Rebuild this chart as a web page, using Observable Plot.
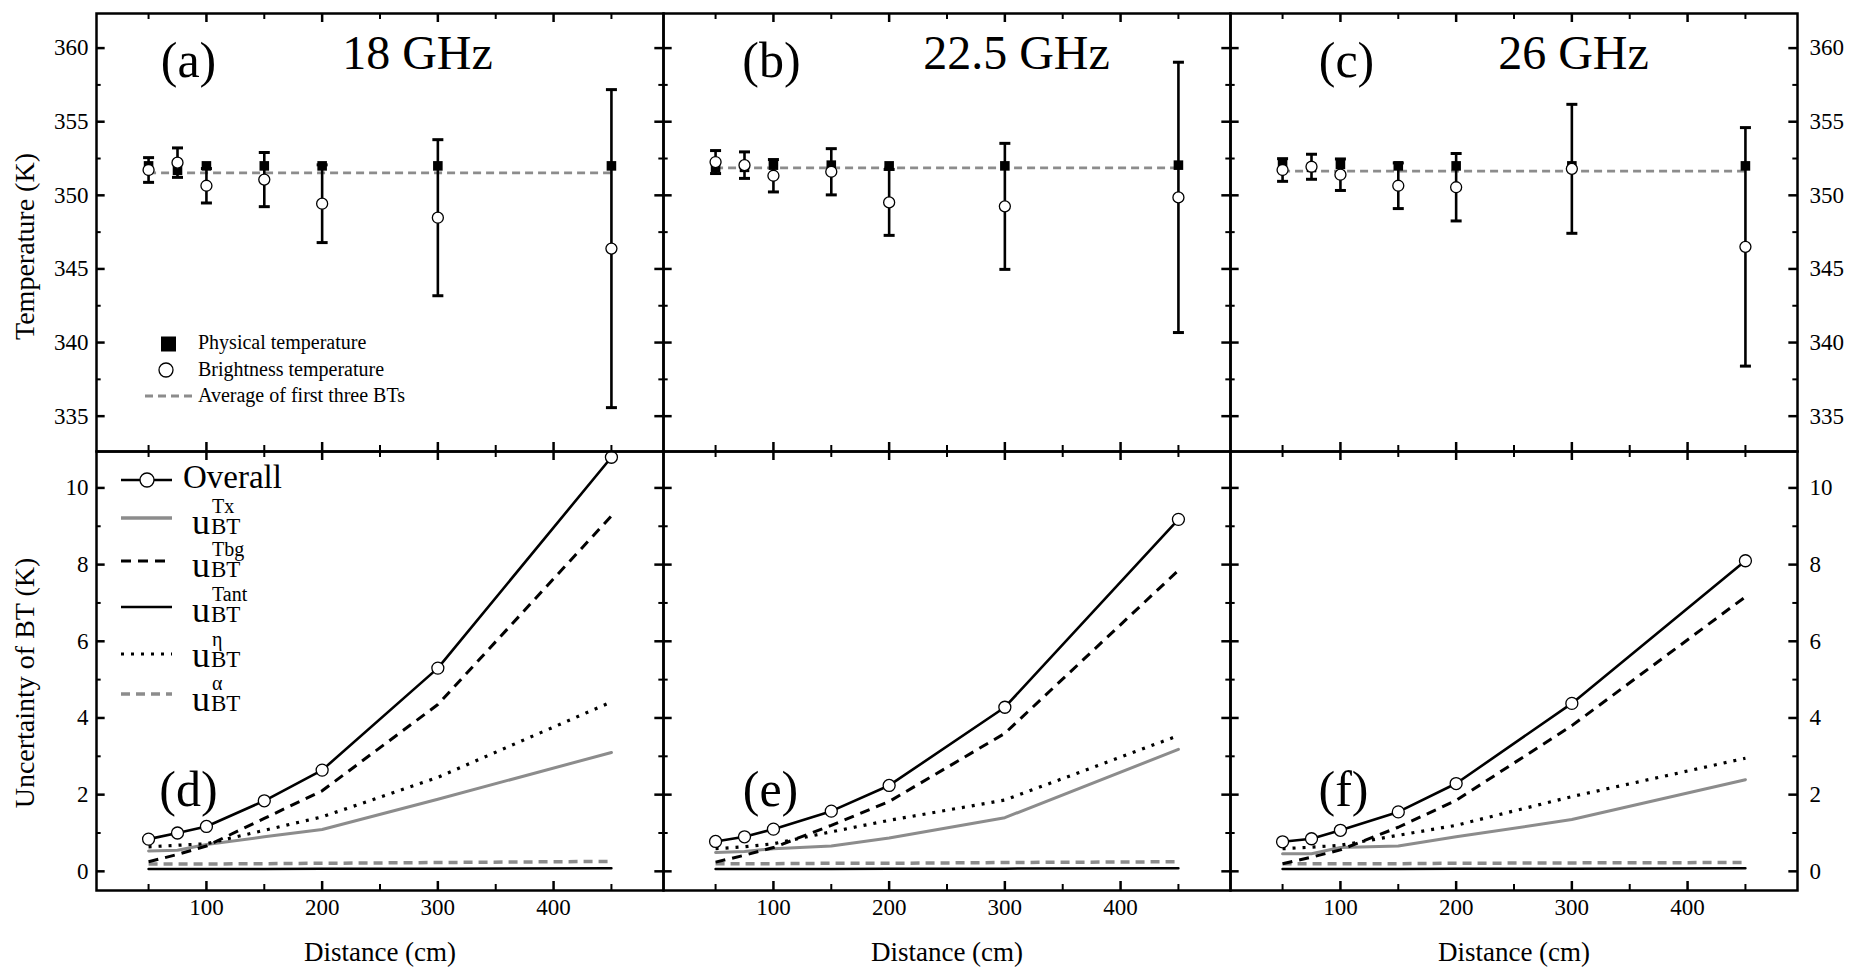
<!DOCTYPE html>
<html>
<head>
<meta charset="utf-8">
<script src="https://cdn.jsdelivr.net/npm/d3@7"></script>
<script src="https://cdn.jsdelivr.net/npm/@observablehq/plot@0.6"></script>
<style>
  html, body { margin: 0; padding: 0; background: #fff; }
  #chart { position: relative; width: 1854px; height: 968px; font-family: "Liberation Serif", serif; }
  #chart svg { position: absolute; left: 0; overflow: visible; }
</style>
</head>
<body>
<div id="chart"></div>
<script>
// ---------------- DATA ----------------
const distances = [50, 75, 100, 150, 200, 300, 450];
const frequencies = ["18 GHz", "22.5 GHz", "26 GHz"];
const topLetters = ["(a)", "(b)", "(c)"];
const bottomLetters = ["(d)", "(e)", "(f)"];

const physicalTemp = [
  [352.0, 351.7, 352.0, 352.0, 352.0, 352.0, 352.0],
  [351.9, 351.9, 352.05, 352.05, 352.0, 352.0, 352.05],
  [352.2, 351.9, 352.1, 352.0, 352.0, 352.0, 352.0]
];
const brightnessTemp = [
  [351.72, 352.22, 350.65, 351.07, 349.43, 348.48, 346.38],
  [352.26, 352.05, 351.33, 351.60, 349.52, 349.25, 349.86],
  [351.72, 351.94, 351.40, 350.65, 350.55, 351.80, 346.50]
];
const avgFirstThreeBT = [351.52, 351.86, 351.64];

const uOverall = [
  [0.84, 1.00, 1.17, 1.84, 2.64, 5.30, 10.80],
  [0.78, 0.90, 1.10, 1.57, 2.24, 4.28, 9.18],
  [0.77, 0.85, 1.07, 1.55, 2.29, 4.38, 8.10]
];
const uTx = [
  [0.53, 0.55, 0.70, 0.90, 1.09, 1.88, 3.10],
  [0.49, 0.52, 0.59, 0.66, 0.87, 1.40, 3.18],
  [0.46, 0.46, 0.62, 0.66, 0.90, 1.35, 2.39]
];
const uTbg = [
  [0.25, 0.44, 0.66, 1.38, 2.10, 4.35, 9.27],
  [0.24, 0.42, 0.62, 1.20, 1.82, 3.60, 7.85],
  [0.20, 0.37, 0.56, 1.15, 1.85, 3.80, 7.16]
];
const uTant = [
  [0.06, 0.06, 0.06, 0.06, 0.07, 0.07, 0.08],
  [0.06, 0.06, 0.06, 0.06, 0.07, 0.07, 0.08],
  [0.06, 0.06, 0.06, 0.06, 0.07, 0.07, 0.08]
];
const uEta = [
  [0.64, 0.68, 0.72, 1.07, 1.42, 2.45, 4.42],
  [0.59, 0.64, 0.72, 1.03, 1.33, 1.86, 3.54],
  [0.59, 0.63, 0.68, 0.94, 1.20, 1.95, 2.95]
];
const uAlpha = [
  [0.19, 0.19, 0.19, 0.20, 0.21, 0.23, 0.26],
  [0.20, 0.20, 0.20, 0.21, 0.21, 0.23, 0.25],
  [0.20, 0.20, 0.20, 0.20, 0.21, 0.22, 0.23]
];

const tempTicks = [335, 340, 345, 350, 355, 360];
const tempMinorTicks = [337.5, 342.5, 347.5, 352.5, 357.5];
const uTicks = [0, 2, 4, 6, 8, 10];
const uMinorTicks = [1, 3, 5, 7, 9];
const distTicks = [100, 200, 300, 400];
const distMinorTicks = [50, 150, 250, 350, 450];

// ---------------- TABLES ----------------
const tempRows = frequencies.flatMap((f, i) => distances.map((d, j) => ({
  freq: f, d, phys: physicalTemp[i][j], bt: brightnessTemp[i][j], u: uOverall[i][j]
})));
const avgRows = frequencies.map((f, i) => ({freq: f, avg: avgFirstThreeBT[i]}));
const compRows = (arr) => frequencies.flatMap((f, i) => distances.map((d, j) => ({freq: f, d, v: arr[i][j]})));

// ---------------- LAYOUT / STYLE ----------------
const W = 1854, H = 968;
const mL = 95, mR = 57;
const topH = 451, topMT = 13;
const botH = H - topH, botMB = 78;
const fw = (W - mL - mR) / 3;
const fhTop = topH - topMT;
const fhBot = botH - botMB;
const grey = "#8c8c8c";
const font = "Liberation Serif";

const capSymbol = { draw(ctx, size) { const w = Math.sqrt(size / Math.PI); ctx.moveTo(-w, 0); ctx.lineTo(w, 0); } };

function tickMarks(yMaj, yMin, fh) {
  const s = {stroke: "black"};
  return [
    Plot.tickY(yMaj, {y: d => d, insetRight: fw - 9, strokeWidth: 2.5, ...s}),
    Plot.tickY(yMaj, {y: d => d, insetLeft: fw - 9, strokeWidth: 2.5, ...s}),
    Plot.tickY(yMin, {y: d => d, insetRight: fw - 5, strokeWidth: 2, ...s}),
    Plot.tickY(yMin, {y: d => d, insetLeft: fw - 5, strokeWidth: 2, ...s}),
    Plot.tickX(distTicks, {x: d => d, insetBottom: fh - 9, strokeWidth: 2.5, ...s}),
    Plot.tickX(distTicks, {x: d => d, insetTop: fh - 9, strokeWidth: 2.5, ...s}),
    Plot.tickX(distMinorTicks, {x: d => d, insetBottom: fh - 6, strokeWidth: 2, ...s}),
    Plot.tickX(distMinorTicks, {x: d => d, insetTop: fh - 6, strokeWidth: 2, ...s})
  ];
}

const topLetterDx = [92, 108, 116];
const titleDx = [321, 353, 343];
const botLetterDx = [92, 107, 113];
const txt = {fontFamily: font};

// ---------------- TOP ROW ----------------
const topPlot = Plot.plot({
  width: W, height: topH,
  marginTop: topMT, marginBottom: 0, marginLeft: mL, marginRight: mR,
  style: {fontFamily: font, fontSize: "23px", color: "black", background: "transparent", overflow: "visible"},
  fx: {domain: frequencies, padding: 0, axis: null},
  x: {domain: [5, 495], axis: null},
  y: {domain: [332.6, 362.35]},
  marks: [
    ...tickMarks(tempTicks, tempMinorTicks, fhTop),
    Plot.axisY(tempTicks, {anchor: "left", tickSize: 0, tickPadding: 8, label: null, ...txt}),
    Plot.axisY(tempTicks, {anchor: "right", tickSize: 0, tickPadding: 12, label: null, ...txt}),
    Plot.text(["Temperature (K)"], {text: d => d, facetAnchor: "left", frameAnchor: "left", rotate: -90, dx: -71, dy: 14, fontSize: 28, textAnchor: "middle", lineAnchor: "middle", ...txt}),
    Plot.ruleY(avgRows, {fx: "freq", y: "avg", x1: () => distances[0], x2: () => distances[distances.length - 1], stroke: grey, strokeWidth: 2.8, strokeDasharray: "8,5"}),
    Plot.ruleX(tempRows, {fx: "freq", x: "d", y1: r => r.bt - r.u, y2: r => r.bt + r.u, stroke: "black", strokeWidth: 2.6}),
    Plot.dot(tempRows, {fx: "freq", x: "d", y: r => r.bt - r.u, symbol: capSymbol, r: 5.5, fill: "none", stroke: "black", strokeWidth: 3}),
    Plot.dot(tempRows, {fx: "freq", x: "d", y: r => r.bt + r.u, symbol: capSymbol, r: 5.5, fill: "none", stroke: "black", strokeWidth: 3}),
    Plot.dot(tempRows, {fx: "freq", x: "d", y: "phys", symbol: "square", r: 5.4, fill: "black", stroke: "none"}),
    Plot.dot(tempRows, {fx: "freq", x: "d", y: "bt", symbol: "circle", r: 5.5, fill: "white", stroke: "black", strokeWidth: 1.3}),
    ...frequencies.map((f, i) => Plot.text([{freq: f, t: topLetters[i]}], {fx: "freq", text: "t", frameAnchor: "top-left", dx: topLetterDx[i], dy: 47, fontSize: 50, textAnchor: "middle", lineAnchor: "middle", ...txt})),
    ...frequencies.map((f, i) => Plot.text([{freq: f, t: f}], {fx: "freq", text: "t", frameAnchor: "top-left", dx: titleDx[i], dy: 40, fontSize: 48, textAnchor: "middle", lineAnchor: "middle", ...txt})),
    Plot.frame({stroke: "black", strokeWidth: 2.5})
  ]
});

// ---------------- BOTTOM ROW ----------------
const botPlot = Plot.plot({
  width: W, height: botH,
  marginTop: 0, marginBottom: botMB, marginLeft: mL, marginRight: mR,
  style: {fontFamily: font, fontSize: "23px", color: "black", background: "transparent", overflow: "visible"},
  fx: {domain: frequencies, padding: 0, axis: null},
  x: {domain: [5, 495]},
  y: {domain: [-0.5, 10.95]},
  marks: [
    ...tickMarks(uTicks, uMinorTicks, fhBot),
    Plot.axisY(uTicks, {anchor: "left", tickSize: 0, tickPadding: 8, label: null, ...txt}),
    Plot.axisY(uTicks, {anchor: "right", tickSize: 0, tickPadding: 12, label: null, ...txt}),
    Plot.axisX(distTicks, {anchor: "bottom", tickSize: 0, tickPadding: 8, label: null, ...txt}),
    Plot.text(["Uncertainty of BT (K)"], {text: d => d, facetAnchor: "left", frameAnchor: "left", rotate: -90, dx: -71, dy: 12, fontSize: 28, textAnchor: "middle", lineAnchor: "middle", ...txt}),
    Plot.text(["Distance (cm)"], {text: d => d, frameAnchor: "bottom", dy: 62, fontSize: 27, textAnchor: "middle", lineAnchor: "middle", ...txt}),
    Plot.line(compRows(uAlpha), {fx: "freq", x: "d", y: "v", stroke: grey, strokeWidth: 3.5, strokeDasharray: "9,6", strokeLinecap: "butt"}),
    Plot.line(compRows(uTant), {fx: "freq", x: "d", y: "v", stroke: "black", strokeWidth: 2.5}),
    Plot.line(compRows(uTx), {fx: "freq", x: "d", y: "v", stroke: grey, strokeWidth: 3}),
    Plot.line(compRows(uEta), {fx: "freq", x: "d", y: "v", stroke: "black", strokeWidth: 3.2, strokeDasharray: "3,7", strokeLinecap: "butt"}),
    Plot.line(compRows(uTbg), {fx: "freq", x: "d", y: "v", stroke: "black", strokeWidth: 3, strokeDasharray: "10,7", strokeLinecap: "butt"}),
    Plot.line(compRows(uOverall), {fx: "freq", x: "d", y: "v", stroke: "black", strokeWidth: 2.6}),
    Plot.dot(compRows(uOverall), {fx: "freq", x: "d", y: "v", r: 6, fill: "white", stroke: "black", strokeWidth: 1.3}),
    ...frequencies.map((f, i) => Plot.text([{freq: f, t: bottomLetters[i]}], {fx: "freq", text: "t", frameAnchor: "top-left", dx: botLetterDx[i], dy: 338, fontSize: 50, textAnchor: "middle", lineAnchor: "middle", ...txt})),
    Plot.frame({stroke: "black", strokeWidth: 2.5})
  ]
});

// ---------------- LEGENDS ----------------
function addTopLegend(svg) {
  const g = d3.select(svg).append("g").attr("font-family", font).attr("font-size", 20)
    .attr("fill", "black").attr("text-anchor", "start");
  g.append("rect").attr("x", 161).attr("y", 336.5).attr("width", 15).attr("height", 15).attr("fill", "black");
  g.append("circle").attr("cx", 166).attr("cy", 370).attr("r", 7).attr("fill", "white").attr("stroke", "black").attr("stroke-width", 1.3);
  g.append("line").attr("x1", 145).attr("x2", 195).attr("y1", 396).attr("y2", 396)
    .attr("stroke", grey).attr("stroke-width", 2.8).attr("stroke-dasharray", "8,5");
  const labels = ["Physical temperature", "Brightness temperature", "Average of first three BTs"];
  const baselines = [349, 376, 402];
  labels.forEach((t, i) => g.append("text").attr("x", 198).attr("y", baselines[i]).text(t));
}

function addBottomLegend(svg) {
  const g = d3.select(svg).append("g").attr("font-family", font).attr("fill", "black").attr("text-anchor", "start");
  const x1 = 121, x2 = 172;
  g.append("line").attr("x1", x1).attr("x2", x2).attr("y1", 29).attr("y2", 29).attr("stroke", "black").attr("stroke-width", 2.6);
  g.append("circle").attr("cx", 147).attr("cy", 29).attr("r", 7).attr("fill", "white").attr("stroke", "black").attr("stroke-width", 1.3);
  g.append("text").attr("x", 183).attr("y", 37).attr("font-size", 33).text("Overall");
  const items = [
    {sup: "Tx", y: 67, stroke: grey, w: 3.5, dash: null},
    {sup: "Tbg", y: 110, stroke: "black", w: 3.2, dash: "10,7"},
    {sup: "Tant", y: 156, stroke: "black", w: 2.6, dash: null},
    {sup: "\u03B7", y: 203, stroke: "black", w: 3.2, dash: "3,7"},
    {sup: "\u03B1", y: 243, stroke: grey, w: 3.5, dash: "9,6"}
  ];
  const base = [83, 126, 171, 216, 260];
  items.forEach((it, i) => {
    const l = g.append("line").attr("x1", x1).attr("x2", x2).attr("y1", it.y).attr("y2", it.y)
      .attr("stroke", it.stroke).attr("stroke-width", it.w);
    if (it.dash) l.attr("stroke-dasharray", it.dash);
    const t = g.append("text").attr("x", 192).attr("y", base[i]).attr("font-size", 36);
    t.append("tspan").text("u");
    t.append("tspan").attr("x", 211).attr("y", base[i]).attr("font-size", 23).text("BT");
    t.append("tspan").attr("x", 212).attr("y", base[i] - 21).attr("font-size", 20).text(it.sup);
  });
}

addTopLegend(topPlot);
addBottomLegend(botPlot);

topPlot.style.top = "0px";
botPlot.style.top = topH + "px";
const chart = document.getElementById("chart");
chart.appendChild(topPlot);
chart.appendChild(botPlot);
</script>
</body>
</html>
